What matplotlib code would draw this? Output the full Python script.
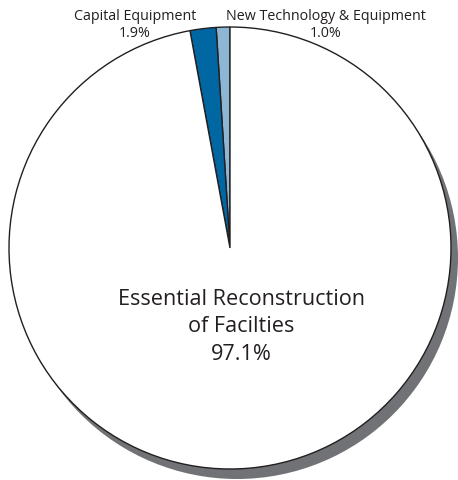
import matplotlib.pyplot as plt
from matplotlib.patches import Circle

labels = ["New Technology & Equipment", "Capital Equipment", "Essential Reconstruction\nof Facilties"]
shares = [1.0, 1.9, 97.1]
colors = ["#8db6d5", "#0067a3", "#ffffff"]

plt.rcParams['font.family'] = ['Open Sans', 'DejaVu Sans']

W, H = 458, 481
fig = plt.figure(figsize=(W / 100, H / 100), dpi=100)
ax = fig.add_axes([0, 0, 1, 1])

cx, cy, r = 230, H - 249, 221

# drop shadow
ax.add_patch(Circle((cx + 7, cy - 10), r, facecolor="#717275", edgecolor="none", zorder=0))

ax.pie(shares, colors=colors, startangle=90, counterclock=True,
       center=(cx, cy), radius=r, frame=True,
       wedgeprops=dict(edgecolor="#231f20", linewidth=1.0))
ax.set_xlim(0, W)
ax.set_ylim(0, H)
ax.axis('off')
ax.set_aspect('auto')

ax.text(135, H - 25, "Capital Equipment\n%.1f%%" % shares[1], ha='center', va='center',
        fontsize=10.3, color="#231f20", linespacing=1.1)
ax.text(326, H - 25, "New Technology & Equipment\n%.1f%%" % shares[0], ha='center', va='center',
        fontsize=10.3, color="#231f20", linespacing=1.1)
ax.text(241, H - 327, labels[2] + "\n%.1f%%" % shares[2], ha='center', va='center',
        fontsize=15.6, color="#231f20", linespacing=1.42)

fig.savefig("out.png", dpi=100)
